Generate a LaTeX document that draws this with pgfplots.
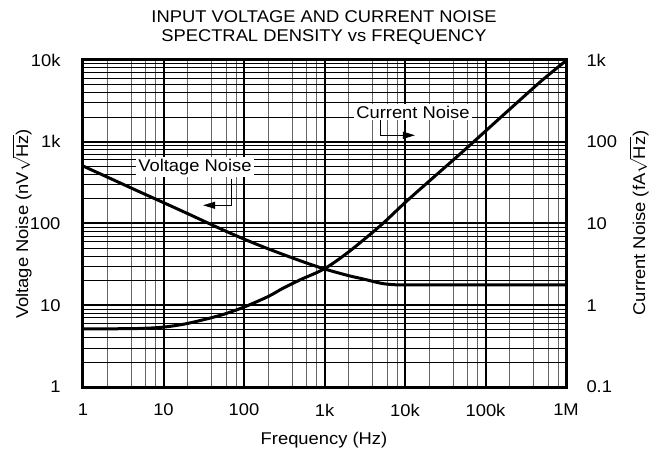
\documentclass[border=0pt]{standalone}
\usepackage{fontspec}
\setmainfont[FakeStretch=1.08]{Liberation Sans}
\usepackage{pgfplots}
\pgfplotsset{compat=1.18}
\usetikzlibrary{arrows.meta}
\newcommand{\fs}{\fontsize{17}{20}\selectfont}
\begin{document}
\begin{tikzpicture}
\useasboundingbox (0pt,0pt) rectangle (651pt,456pt);
\begin{axis}[
  at={(83pt,69pt)}, anchor=south west, scale only axis,
  width=483pt, height=327pt,
  xmode=log, ymode=log,
  xmin=1, xmax=1e6, ymin=1, ymax=1e4,
  xtick={1,10,100,1000,10000,100000,1000000},
  xticklabels={1,10,100,1k,10k,100k,1M},
  ytick={1,10,100,1000,10000},
  yticklabels={1,10,100,1k,10k},
  minor xtick={2,4,6,8,20,40,60,80,200,400,600,800,2000,4000,6000,8000,20000,40000,60000,80000,200000,400000,600000,800000},
  minor ytick={2,3,4,5,6,7,8,9,20,30,40,50,60,70,80,90,200,300,400,500,600,700,800,900,2000,3000,4000,5000,6000,7000,8000,9000},
  grid=both,
  major grid style={black, line width=2pt},
  minor x grid style={black!60, line width=1pt},
  minor y grid style={black, line width=0.9pt},
  major tick length=0pt, minor tick length=0pt,
  axis line style={line width=3pt},
  tick label style={font=\fs},
  xticklabel style={anchor=center, yshift=-23pt},
  yticklabel style={anchor=east, xshift=-19pt},
]
% Voltage noise (nV/sqrt(Hz))
\addplot[black, line width=3pt, smooth] coordinates {
  (1,505) (2,370) (5,245) (10,180) (20,132) (50,87) (100,64.5) (200,49)
  (500,35) (1000,27.8) (2000,23) (3000,21) (5000,18.6) (7000,17.9)
  (10000,17.8) (100000,17.8) (1000000,17.8)
};
\draw[line width=1pt, -{Triangle[length=12pt,width=7pt]}]
  (axis cs:70,354) |- (axis cs:31,167);
\draw[line width=1pt, -{Triangle[length=12pt,width=7pt]}]
  (axis cs:5000,1920) |- (axis cs:13300,1200);
\node[fill=white, inner sep=2pt, font=\fs] at (axis cs:24.6,491) {Voltage Noise};
\node[fill=white, inner sep=2pt, font=\fs] at (axis cs:12560,2310) {Current Noise};
\end{axis}
\begin{axis}[
  at={(83pt,69pt)}, anchor=south west, scale only axis,
  width=483pt, height=327pt,
  xmode=log, ymode=log,
  xmin=1, xmax=1e6, ymin=0.1, ymax=1000,
  hide x axis,
  axis y line*=right,
  ytick={0.1,1,10,100,1000},
  yticklabels={0.1,1,10,100,1k},
  minor ytick={},
  major tick length=0pt, minor tick length=0pt,
  axis line style={line width=3pt},
  tick label style={font=\fs},
  yticklabel style={anchor=west, xshift=17pt},
]
% Current noise (fA/sqrt(Hz))
\addplot[black, line width=3pt, smooth] coordinates {
  (1,0.515) (2,0.515) (5,0.52) (10,0.54) (20,0.6) (50,0.75) (100,0.95)
  (200,1.28) (300,1.6) (500,2.05) (1000,2.8) (2000,4.5) (5000,9.5) (10000,18)
  (20000,33) (50000,73) (100000,135) (200000,250) (500000,560) (1000000,980)
};
\end{axis}
\node[font=\fs] at (324pt,439pt) {INPUT VOLTAGE AND CURRENT NOISE};
\node[font=\fs] at (324pt,419pt) {SPECTRAL DENSITY vs FREQUENCY};
\node[font=\fs] at (324pt,16pt) {Frequency (Hz)};
\node[font=\fs, rotate=90, inner sep=0pt] at (22pt,232pt) {Voltage Noise (nV$\sqrt{\mbox{Hz}}$)};
\node[font=\fs, rotate=90, inner sep=0pt] at (639pt,233pt) {Current Noise (fA$\sqrt{\mbox{Hz}}$)};
\end{tikzpicture}
\end{document}
